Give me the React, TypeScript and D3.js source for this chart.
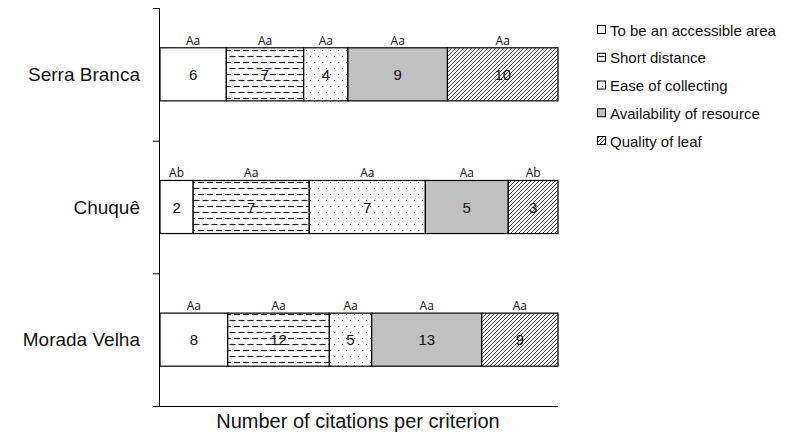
import React from "react";
import * as d3 from "d3";

const places = ["Serra Branca", "Chuquê", "Morada Velha"];
const criteria = [
  "To be an accessible area",
  "Short distance",
  "Ease of collecting",
  "Availability of resource",
  "Quality of leaf",
];
const serraBranca = [6, 7, 4, 9, 10];
const chuque = [2, 7, 7, 5, 3];
const moradaVelha = [8, 12, 5, 13, 9];
const serraBrancaLetters = ["Aa", "Aa", "Aa", "Aa", "Aa"];
const chuqueLetters = ["Ab", "Aa", "Aa", "Aa", "Ab"];
const moradaVelhaLetters = ["Aa", "Aa", "Aa", "Aa", "Aa"];
const xTitle = "Number of citations per criterion";

const seriesValues = [serraBranca, chuque, moradaVelha];
const seriesLetters = [serraBrancaLetters, chuqueLetters, moradaVelhaLetters];

const fills = ["#ffffff", "url(#pDash)", "url(#pDots)", "#c0c0c0", "url(#pDiag)"];

export default function App() {
  const W = 787, H = 436;
  const left = 160, right = 558, top = 8, bottom = 406;
  const y = d3.scaleBand<string>().domain(places).range([top, bottom]).paddingInner(0.6).paddingOuter(0.3);
  const yOuter = d3.scaleBand<string>().domain(places).range([top, bottom]);
  const x = d3.scaleLinear().domain([0, 1]).range([left, right]);
  const font = "'Liberation Sans', Arial, sans-serif";

  const legendY = d3.scalePoint<string>().domain(criteria).range([30, 141]);

  const ticks = [top, ...places.map((p) => (yOuter(p)! + yOuter.bandwidth()))];

  return (
    <svg width={W} height={H} style={{ position: "absolute", left: 0, top: 0 }} xmlns="http://www.w3.org/2000/svg">
      <defs>
        <pattern id="pDash" width="9" height="12" patternUnits="userSpaceOnUse">
          <rect width="9" height="12" fill="#fff" />
          <line x1="0" y1="2.5" x2="6" y2="2.5" stroke="#222" strokeWidth="1.2" />
          <line x1="4.5" y1="8.5" x2="9" y2="8.5" stroke="#222" strokeWidth="1.2" />
          <line x1="0" y1="8.5" x2="1.5" y2="8.5" stroke="#222" strokeWidth="1.2" />
        </pattern>
        <pattern id="pDots" width="8" height="12" patternUnits="userSpaceOnUse">
          <rect width="8" height="12" fill="#fff" />
          <rect x="2" y="2" width="1.2" height="1.2" fill="#333" />
          <rect x="6" y="8" width="1.2" height="1.2" fill="#333" />
        </pattern>
        <pattern id="pDiag" width="4" height="4" patternUnits="userSpaceOnUse">
          <rect width="4" height="4" fill="#fff" />
          <path d="M-1,1 L1,-1 M0,4 L4,0 M3,5 L5,3" stroke="#444" strokeWidth="1" />
        </pattern>
      </defs>

      {/* axis */}
      <line x1={left - 0.5} y1={top} x2={left - 0.5} y2={bottom} stroke="#000" strokeWidth={1} />
      <line x1={153} y1={bottom + 0.5} x2={right} y2={bottom + 0.5} stroke="#000" strokeWidth={1} />
      {ticks.map((t, i) => (
        <line key={i} x1={153} x2={left} y1={t + 0.5} y2={t + 0.5} stroke="#000" />
      ))}

      {places.map((p, pi) => {
        const vals = seriesValues[pi];
        const total = d3.sum(vals);
        const cum = d3.cumsum(vals);
        const y0 = y(p)!;
        const bh = y.bandwidth();
        return (
          <g key={p}>
            <text x={140} y={y0 + bh / 2} textAnchor="end" dominantBaseline="central" fontFamily={font} fontSize={19} fill="#111">
              {p}
            </text>
            {vals.map((v, i) => {
              const a = x((cum[i] - v) / total);
              const b = x(cum[i] / total);
              return (
                <g key={i}>
                  <rect x={a} y={y0} width={b - a} height={bh} fill={fills[i]} stroke="#000" strokeWidth={1.2} />
                  <text x={(a + b) / 2} y={y0 + bh / 2} textAnchor="middle" dominantBaseline="central" fontFamily={font} fontSize={15} fill="#111">
                    {v}
                  </text>
                  <text x={(a + b) / 2} y={y0 - 3} textAnchor="middle" fontFamily="'Open Sans', sans-serif" fontSize={12} fill="#111">
                    {seriesLetters[pi][i]}
                  </text>
                </g>
              );
            })}
          </g>
        );
      })}

      {criteria.map((c, i) => (
        <g key={c}>
          <rect x={597.5} y={legendY(c)! - 4.5} width={8} height={8} fill={fills[i]} stroke="#000" strokeWidth={1} />
          <text x={610} y={legendY(c)!} dominantBaseline="central" fontFamily={font} fontSize={15} fill="#111">
            {c}
          </text>
        </g>
      ))}

      <text x={358} y={428} textAnchor="middle" fontFamily={font} fontSize={20} fill="#111">
        {xTitle}
      </text>
    </svg>
  );
}
